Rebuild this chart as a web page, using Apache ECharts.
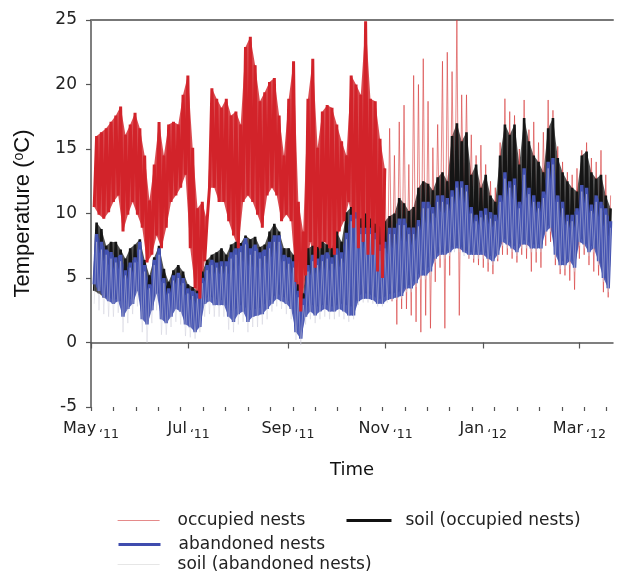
<!DOCTYPE html>
<html><head><meta charset="utf-8">
<script src="https://cdn.jsdelivr.net/npm/echarts@6/dist/echarts.min.js"></script>
<style>html,body{margin:0;padding:0;background:#fff}#c{width:623px;height:572px}</style>
</head><body><div id="c"></div>
<script>
// Sampling grid: days after 1 May 2011; each sample has a low and a high reading
const START_DAY = 2, STEP_DAYS = 3, HALF_STEP = 1.5;
const DAY_MAX = 326;
const SUMMER_LAST_INDEX = 60; // samples up to early Nov drawn in front

// Tick positions (days after 1 May 2011) and labels
const monthTicks = [0, 61, 123, 184, 245, 305];
const monthLabels = ['May', 'Jul', 'Sep', 'Nov', 'Jan', 'Mar'];
const yearLabels = ['\u201811', '\u201811', '\u201811', '\u201811', '\u201812', '\u201812'];

// occupied nests (red)
const redHi = [
  16.0,16.3,16.6,17.1,17.6,18.3,16.1,16.9,17.8,16.6,14.5,11.0,13.8,17.1,14.5,16.9,17.1,16.9,19.2,20.7,15.1,10.4,10.9,9.4,19.7,18.9,18.2,
  18.9,17.6,17.9,16.9,22.9,23.7,21.5,18.7,19.4,20.2,20.5,17.6,14.5,18.9,21.8,10.9,8.6,18.9,22.0,15.1,17.9,18.4,18.2,16.9,15.6,14.5,20.7,
  20.0,19.2,24.9,18.9,18.7,15.8,13.5,16.6,14.5,17.1,18.4,13.8,20.7,20.0,22.0,18.7,15.1,16.9,21.8,22.5,21.0,25.0,19.2,19.2,16.1,14.5,15.3,
  13.8,12.5,12.0,15.5,18.9,17.9,17.6,15.0,18.8,16.5,17.1,15.5,16.3,18.8,18.0,15.2,14.0,13.2,13.0,13.5,14.9,15.5,14.3,14.0,14.9,13.0,11.4];
const redLo = [
  10.5,9.9,9.6,10.1,10.9,11.4,8.6,9.9,10.9,9.9,8.9,6.2,6.8,8.3,7.3,8.9,10.9,11.4,12.0,13.0,7.3,4.2,3.4,6.3,12.0,12.0,10.9,
  10.9,9.4,8.3,7.3,10.9,11.4,10.9,9.9,8.9,11.4,12.0,11.4,9.4,9.9,9.4,4.7,2.4,5.2,7.8,5.8,7.3,7.8,7.3,6.8,8.6,9.4,10.9,
  8.9,7.3,7.8,6.8,6.8,5.5,5.0,4.0,3.2,1.4,2.6,2.6,2.1,1.6,0.8,2.1,1.1,4.7,5.8,1.1,5.2,7.3,2.1,7.3,6.5,6.2,6.0,
  5.8,5.5,5.3,6.3,6.8,6.8,6.5,6.2,6.8,6.5,5.5,6.2,5.8,7.5,7.8,6.0,5.3,5.2,4.8,4.1,6.5,6.8,6.0,5.5,5.2,3.9,3.5];

// abandoned nests (blue)
const blueHi = [
  8.4,7.8,7.2,7.0,6.6,6.8,5.6,6.2,6.6,7.8,6.0,4.5,6.4,7.3,5.0,4.2,5.2,5.4,5.0,4.2,4.0,3.8,5.0,6.0,6.4,6.2,6.3,
  6.3,7.0,7.3,7.5,8.1,7.3,7.6,7.0,7.2,7.8,8.3,8.3,6.8,6.6,6.3,4.0,3.4,6.0,6.8,6.5,6.8,7.0,6.6,7.3,7.0,8.5,9.9,
  10.1,8.9,8.9,8.9,8.5,7.6,7.8,8.9,8.9,9.6,9.6,8.9,8.9,9.5,10.9,10.9,10.5,11.4,11.4,11.2,11.8,12.5,12.5,12.2,10.5,9.9,10.2,
  10.4,10.1,9.9,11.4,13.2,12.5,12.7,10.9,13.5,12.0,11.4,10.9,11.7,14.0,14.3,11.4,10.9,9.9,9.9,10.4,12.2,12.0,10.7,11.4,10.9,10.4,9.4];
const blueLo = [
  4.5,4.0,3.5,3.2,3.0,3.2,2.0,2.6,3.0,4.0,1.8,1.4,2.5,3.8,1.8,1.5,2.0,2.6,2.4,1.4,1.2,0.8,1.2,3.0,3.2,2.9,2.9,
  2.9,2.0,1.6,2.2,2.4,1.6,2.0,2.1,2.2,2.6,3.0,3.4,3.2,3.0,2.6,0.8,0.3,2.0,2.4,2.1,2.4,2.6,2.4,2.4,2.6,2.4,2.1,
  2.1,3.2,3.4,3.4,3.3,3.0,3.0,3.3,3.4,3.5,3.6,4.2,4.2,4.6,5.2,5.2,5.5,6.5,6.8,6.8,7.0,7.3,7.3,7.0,6.8,6.8,6.8,
  6.8,6.5,6.3,6.8,7.8,7.6,7.3,7.0,7.6,7.6,7.3,7.3,7.3,8.6,8.9,6.8,6.0,6.0,6.3,5.8,7.8,7.6,7.0,7.3,6.3,5.0,4.2];

// soil (occupied nests) (black)
const blackHi = [
  9.3,8.8,7.5,7.8,7.8,7.2,6.5,7.3,7.6,8.0,6.4,5.2,6.6,7.5,5.7,4.7,5.6,6.0,5.5,4.5,4.3,4.0,5.5,6.4,6.8,7.0,7.3,
  6.8,7.6,7.8,7.7,8.3,8.0,8.2,7.4,7.6,8.6,9.2,8.6,7.3,7.3,6.8,4.5,3.8,7.3,7.5,7.4,7.8,7.6,7.3,8.6,7.8,10.1,10.5,
  9.8,9.6,10.0,9.6,9.2,9.0,9.4,9.8,10.0,11.2,10.8,10.2,10.5,12.0,12.5,12.3,11.8,12.8,13.2,12.5,16.0,17.0,15.6,16.3,13.0,13.8,12.0,
  13.0,11.4,10.9,14.5,16.9,16.1,16.9,13.8,17.4,15.6,14.5,14.0,13.2,16.6,17.4,14.3,13.2,12.5,12.0,11.7,14.5,14.8,13.2,12.7,13.0,11.4,10.4];
const blackLo = [
  4.0,3.8,3.5,3.5,3.3,3.4,3.0,3.2,3.5,4.2,2.8,2.6,3.0,4.0,3.5,3.4,3.6,3.5,3.0,2.2,2.0,1.5,2.0,3.4,3.6,3.4,3.3,
  3.3,2.6,2.4,2.8,3.0,2.4,2.6,2.6,2.8,3.2,3.4,3.8,3.6,3.4,3.0,1.5,1.0,2.6,3.0,2.8,2.8,3.0,2.8,2.8,3.0,3.0,2.8,
  2.8,3.6,3.8,3.8,3.6,3.4,3.4,3.7,3.8,3.9,4.0,4.4,4.5,5.0,5.6,5.6,6.0,6.8,7.0,7.0,7.2,7.5,7.5,7.2,7.0,7.0,7.0,
  7.1,6.8,6.6,7.1,8.1,7.9,7.6,7.3,7.9,7.9,7.6,7.6,7.6,8.9,9.2,7.1,6.3,6.3,6.6,6.1,8.1,7.9,7.3,7.6,6.6,5.3,4.5];

// soil (abandoned nests) (light grey)
const greyHi = [
  7.8,7.2,6.8,6.5,6.2,6.3,5.2,5.8,6.2,7.2,5.5,4.2,6.0,6.8,4.6,3.8,4.8,5.0,4.6,3.8,3.6,3.4,4.6,5.6,6.0,5.8,5.9,
  5.9,6.5,6.8,7.0,7.6,6.8,7.1,6.5,6.7,7.3,7.8,7.8,6.3,6.1,5.8,3.5,2.9,5.5,6.3,6.0,6.3,6.5,6.1,6.8,6.5,8.0,9.4,
  9.6,8.4,8.4,8.4,8.0,7.1,7.3,8.4,8.4,9.1,9.1,8.4,8.4,9.0,10.4,10.4,10.0,10.9,10.9,10.7,11.3,12.0,12.0,11.7,10.0,9.4,9.7,
  9.9,9.6,9.4,10.9,12.7,12.0,12.2,10.4,13.0,11.5,10.9,10.4,11.2,13.5,13.8,10.9,10.4,9.4,9.4,9.9,11.7,11.5,10.2,10.9,10.4,9.9,8.9];
const greyLo = [
  3.0,2.5,2.2,2.0,2.0,2.3,0.8,1.5,2.2,2.8,0.8,0.0,1.5,2.5,0.6,0.6,1.2,1.6,1.4,0.5,0.4,0.3,0.8,2.0,2.2,2.0,2.0,
  2.0,1.0,0.8,1.4,1.6,0.8,1.2,1.2,1.4,1.8,2.4,2.8,2.6,2.2,1.8,0.2,-0.2,1.4,1.8,1.5,1.8,2.0,1.8,1.8,2.0,1.8,1.6,
  1.8,2.9,3.1,3.1,3.0,2.8,2.8,3.1,3.2,3.3,3.4,3.9,3.9,4.3,4.9,4.9,5.2,6.2,6.5,6.5,6.7,7.0,7.0,6.7,6.5,6.5,6.5,
  6.5,6.2,6.0,6.5,7.5,7.3,7.0,6.7,7.3,7.3,7.0,7.0,7.0,8.3,8.6,6.5,5.7,5.7,6.0,5.5,7.5,7.3,6.7,7.0,6.0,4.7,3.9];

const FONT = 'DejaVu Sans';
const AX = '#555';

function zigzag(lo, hi, from, to) {
  const pts = [];
  for (let i = from; i <= to; i++) {
    const d = START_DAY + STEP_DAYS * i;
    pts.push([d, lo[i]]);
    pts.push([d + HALF_STEP, hi[i]]);
  }
  return pts;
}
const minorTicks = [];
for (let d = 0; d <= DAY_MAX; d += 14) minorTicks.push(d);

const N = redHi.length - 1;
function lineSeries(name, data, color, width) {
  return { type: 'line', name, data, symbol: 'none', showSymbol: false, silent: true,
    lineStyle: { color, width, join: 'miter', miterLimit: 2 }, itemStyle: { color }, animation: false, clip: true };
}
// filled envelope between the low and high readings, positioned through the axes
function bandSeries(lo, hi, from, to, fill) {
  return { type: 'custom', silent: true, animation: false, clip: true, data: [[0, 0]],
    renderItem: (params, api) => {
      const top = [], bot = [];
      for (let i = from; i <= to; i++) {
        const d = START_DAY + STEP_DAYS * i;
        top.push(api.coord([d + HALF_STEP, hi[i]]));
        bot.push(api.coord([d, lo[i]]));
      }
      return { type: 'polygon', shape: { points: top.concat(bot.reverse()) }, style: { fill } };
    } };
}

const legendText = { fontFamily: FONT, fontSize: 17, color: '#222', padding: [0, 0, 0, 13] };

const chart = echarts.init(document.getElementById('c'), null, { renderer: 'canvas' });
chart.setOption({
  animation: false,
  backgroundColor: '#fff',
  grid: { left: 91, right: 10, top: 20, bottom: 165 },
  xAxis: [
    { type: 'value', min: 0, max: DAY_MAX, position: 'bottom',
      axisLine: { show: true, lineStyle: { color: AX, width: 1.5 } },
      axisTick: { show: true, customValues: monthTicks, length: 6, lineStyle: { color: AX, width: 1.2 } },
      axisLabel: { customValues: monthTicks, margin: 14, color: '#222',
        formatter: v => { const i = monthTicks.indexOf(v); return '{m|' + monthLabels[i] + '}{y|' + yearLabels[i] + '}'; },
        rich: {
          m: { fontFamily: FONT, fontSize: 16, color: '#222', padding: [0, 3, 4, 0], verticalAlign: 'bottom' },
          y: { fontFamily: FONT, fontSize: 12.5, color: '#222', verticalAlign: 'bottom' }
        } },
      splitLine: { show: false },
      name: 'Time', nameLocation: 'middle', nameGap: 54,
      nameTextStyle: { fontFamily: FONT, fontSize: 18, color: '#111' } },
    { type: 'value', min: 0, max: DAY_MAX, position: 'bottom',
      axisLine: { show: false },
      axisTick: { show: true, customValues: minorTicks, length: 4, lineStyle: { color: AX, width: 1.2 } },
      axisLabel: { show: false }, splitLine: { show: false } },
    { type: 'value', min: 0, max: DAY_MAX, position: 'top',
      axisLine: { show: true, lineStyle: { color: '#777', width: 2 } },
      axisTick: { show: false }, axisLabel: { show: false }, splitLine: { show: false } }
  ],
  yAxis: {
    type: 'value', min: -5, max: 25, interval: 5,
    axisLine: { show: true, lineStyle: { color: AX, width: 1.5 } },
    axisTick: { show: true, length: 5, lineStyle: { color: AX, width: 1.2 } },
    axisLabel: { fontFamily: FONT, fontSize: 17, color: '#222', margin: 14 },
    splitLine: { show: false },
    name: '{a|Temperature (}{s|o}{a|C)}', nameLocation: 'middle', nameGap: 57,
    nameTextStyle: { rich: {
      a: { fontFamily: 'Liberation Sans', fontSize: 22, color: '#111' },
      s: { fontFamily: 'Liberation Sans', fontSize: 14, color: '#111', verticalAlign: 'top', padding: [0, 0, 8, 0] } } }
  },
  legend: [
    { data: [{ name: 'occupied nests', itemStyle: { opacity: 0 }, lineStyle: { color: '#e58a8a', width: 1.2 } }],
      left: 112, top: 507, itemWidth: 42, itemHeight: 14, selectedMode: false, textStyle: legendText },
    { data: [{ name: 'soil (occupied nests)', itemStyle: { opacity: 0 }, lineStyle: { color: '#111', width: 3 } }],
      left: 340, top: 507, itemWidth: 45, itemHeight: 14, selectedMode: false,
      textStyle: Object.assign({}, legendText, { padding: [0, 0, 0, 9] }) },
    { data: [{ name: 'abandoned nests', itemStyle: { opacity: 0 }, lineStyle: { color: '#3f4cae', width: 3 } }],
      left: 112, top: 531, itemWidth: 42, itemHeight: 14, selectedMode: false, textStyle: legendText },
    { data: [{ name: 'soil (abandoned nests)', itemStyle: { opacity: 0 }, lineStyle: { color: '#e6e6e6', width: 1.2 } }],
      left: 112, top: 551, itemWidth: 42, itemHeight: 14, selectedMode: false, textStyle: legendText }
  ],
  series: [
    lineSeries('occupied nests', zigzag(redLo, redHi, SUMMER_LAST_INDEX, N), 'rgba(214,55,55,0.6)', 1),
    bandSeries(blackLo, blackHi, 0, N, 'rgba(25,25,25,0.75)'),
    lineSeries('soil (occupied nests)', zigzag(blackLo, blackHi, 0, N), '#151515', 2.6),
    bandSeries(blueLo, blueHi, 0, N, 'rgba(68,83,178,0.9)'),
    lineSeries('abandoned nests', zigzag(blueLo, blueHi, 0, N), '#4453b2', 3.4),
    lineSeries('soil (abandoned nests)', zigzag(greyLo, greyHi, 0, N), 'rgba(205,205,218,0.7)', 0.65),
    bandSeries(redLo, redHi, 0, SUMMER_LAST_INDEX, 'rgba(210,35,42,0.82)'),
    lineSeries('occupied nests', zigzag(redLo, redHi, 0, SUMMER_LAST_INDEX), '#d2232a', 3)
  ]
});
</script></body></html>
